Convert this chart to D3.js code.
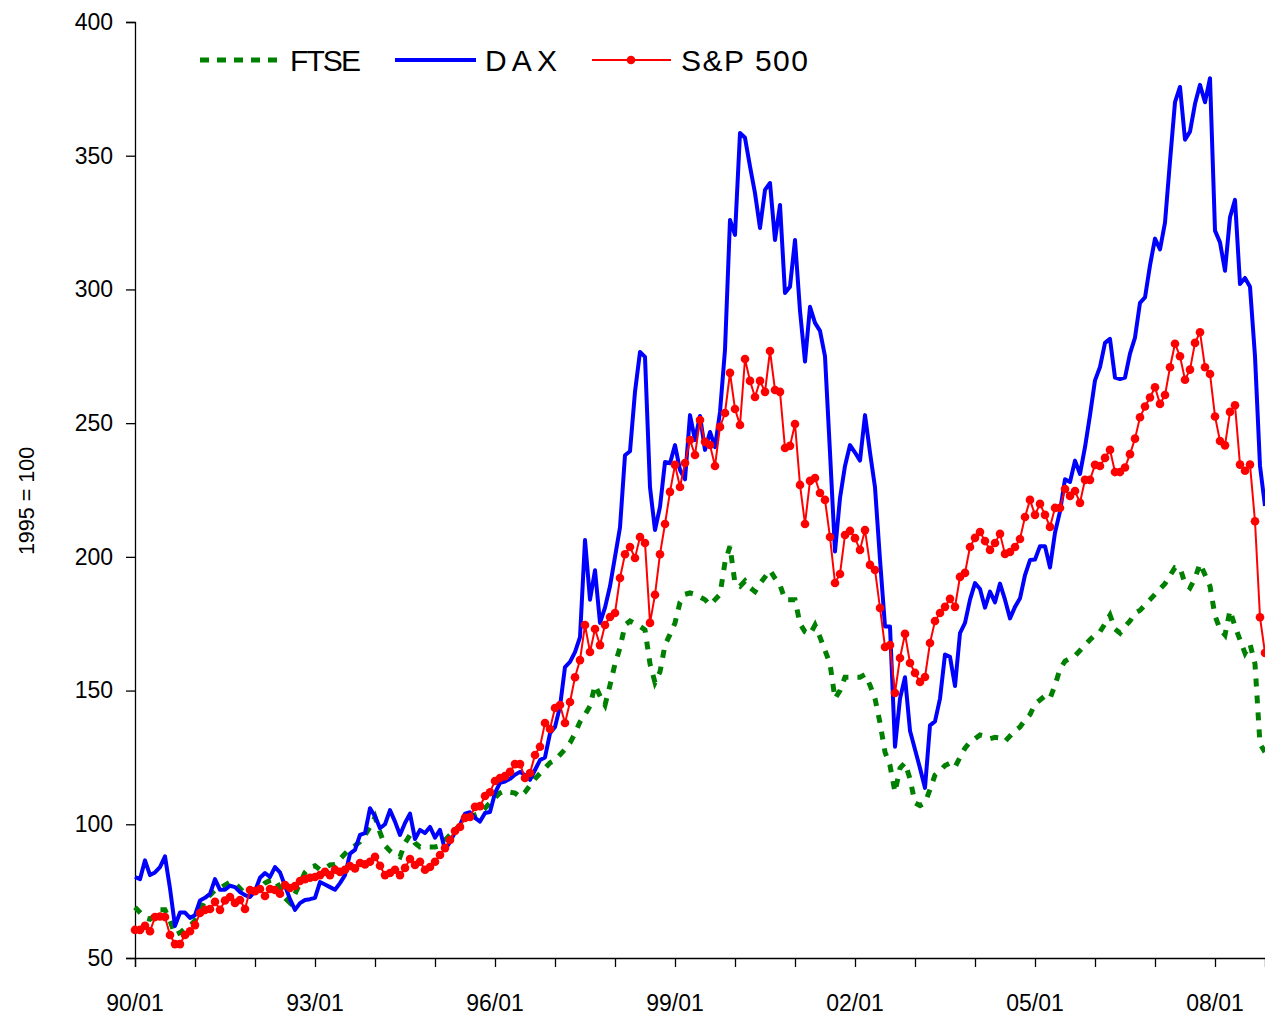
<!DOCTYPE html>
<html>
<head>
<meta charset="utf-8">
<script src="https://cdn.jsdelivr.net/npm/d3@7"></script>
<style>
  html, body { margin: 0; padding: 0; background: #fff; }
  svg { display: block; font-family: "Liberation Sans", Arial, sans-serif; }
</style>
</head>
<body>
<svg id="chart" width="1265" height="1019"></svg>
<script>
// Monthly observations, Jan 1990 .. Nov 2008 (1995 = 100)
const startYear = 1990;
const monthCount = 227;

const ftse = [
  69, 67, 65, 64.5, 66, 68, 68, 64, 58.6, 59.5, 61, 62,
  64, 67, 72, 73.5, 75.4, 76, 77.3, 78.4, 78, 76, 74, 74,
  75, 76, 78, 79, 79.5, 76, 72.4, 70.6, 74, 78, 82, 84,
  84.5, 83, 83.5, 84.8, 85, 87, 89, 91, 92, 93.5, 96, 99,
  102.7, 97, 92, 90, 88.5, 87.8, 93, 96, 93, 91.5, 91.5, 91.5,
  91.5, 92, 94, 96, 98, 99.5, 101, 102.5, 103.5, 104.2, 106, 108,
  110, 111.7, 112.5, 112, 111.7, 110.2, 112, 114.5, 117, 119, 121, 123,
  124, 126, 128, 130.4, 134, 138.3, 141, 144.2, 152, 148, 144.6, 152,
  160, 166, 174.5, 176, 175, 174, 172.7, 160, 153, 157, 167, 171,
  175.3, 183, 186, 186.5, 186, 185, 184, 182, 184, 186, 198, 204,
  190, 189, 191, 188.5, 187, 190, 192.5, 195, 192, 189.5, 184, 184,
  184, 175, 172, 171, 174.5, 170, 165, 160, 147, 150, 155, 155,
  155, 155, 156, 152, 147, 138, 127, 122, 112, 121, 123, 117,
  108, 107, 108, 113, 118.4, 120, 122, 122.9, 121.4, 125, 128.5, 130.8,
  132, 133.4, 133, 132, 132.5, 132.3, 131, 133, 135, 136.4, 139, 141,
  145, 146.5, 148, 147, 152, 158, 161, 162, 163, 165, 167, 169,
  170.8, 172, 175, 178.2, 173, 171.5, 174, 176, 179, 180, 182, 184,
  186, 188, 190, 193, 196, 196, 190, 188.4, 192, 197.5, 193.3, 189,
  178, 173, 170.8, 180, 174, 169, 164, 167.4, 160, 130, 127
];

const dax = [
  80.3, 79.5, 86.5, 81, 82, 84, 88, 76, 62, 67, 67, 65,
  66, 71.5, 72.5, 74, 79.5, 75.5, 75.5, 77, 76.5, 74.7, 73.5, 72.8,
  75, 80, 81.8, 80.3, 84, 82, 77, 72, 68, 70.5, 71.7, 72,
  72.5, 78.4, 77.5, 76.5, 75.5, 78, 81, 89, 90.4, 96, 96.7, 106,
  103, 98.5, 100, 105.3, 101, 96, 100.5, 104, 94.5, 97.9, 96.7, 99,
  95, 97.9, 90.4, 93.4, 97, 99.7, 104, 104.5, 102.4, 101, 104.2, 104.6,
  111.7, 115.5, 116, 117, 118.5, 119.6, 118.4, 116.6, 120.3, 124, 125, 134,
  136.4, 144, 158.8, 160.7, 164.4, 170, 206.3, 184, 195, 175.3, 181, 189,
  200, 211, 238, 239.5, 261.7, 276.6, 274.8, 226, 210, 218.7, 235.5, 235,
  241.8, 232.5, 229, 253, 243.7, 252.7, 240, 246.7, 241, 254.2, 277.4, 326,
  320.4, 358.5, 356.7, 346, 336, 323, 337.2, 339.8, 318.5, 331.6, 298.7, 301,
  318.5, 292, 273, 293.5, 287.5, 284.5, 275, 239, 202, 222, 234, 241.8,
  239, 236, 253, 239, 226, 199, 174, 174, 129, 147, 155, 135,
  128, 121, 113.6, 137, 138.5, 147, 163.5, 162.6, 151.7, 171.5, 175.3, 184,
  190.2, 188, 181, 187, 183, 190, 184, 177, 181.3, 184.5, 193.2, 198.8,
  199, 204, 204, 196, 209, 217, 229, 228, 236, 231, 241, 253,
  266, 271, 280, 281.5, 267, 266.5, 267, 276, 282, 295, 297, 309,
  319, 315, 325, 348, 370, 375.7, 356, 359, 369.4, 376.5, 370, 379,
  322, 317.6, 307, 327, 333.5, 302, 304.3, 301, 275, 234, 219
];

const sp500 = [
  60.5, 60.5, 62, 60, 65.3, 65.5, 65.3, 58.6, 55.2, 55.2, 58.6, 60,
  62.3, 66.8, 68, 68.3, 71, 68, 71.5, 72.8, 70.6, 71.7, 68.3, 75.4,
  75, 75.8, 73.2, 75.8, 75.4, 74, 77.3, 76.2, 76.9, 78.8, 79.5, 80,
  80.3, 81, 82.2, 81, 83, 82.2, 83, 84.4, 83.5, 85.5, 85, 86,
  87.8, 84.5, 81, 81.8, 83, 81, 83.7, 87, 84.8, 86, 83, 84,
  86, 88.5, 91.1, 94.1, 97.5, 99, 102.4, 102.7, 106.5, 106.8, 110.6, 112,
  116.2, 117.3, 118, 119.6, 122.5, 122.5, 117.3, 119.2, 125.9, 129, 137.9, 135.6,
  143.5, 144.6, 137.9, 145.7, 155, 161.4, 174.5, 164.4, 173, 167, 174.5, 177.5,
  179, 192.1, 201, 203.7, 199.6, 207.4, 205.2, 175.3, 185.8, 201, 212.3, 224.3,
  234.4, 226.1, 235.1, 243.7, 238.1, 251.2, 243, 241.8, 234, 248.6, 253.8, 268.8,
  255.3, 249.3, 274, 265.8, 259.8, 265.8, 261.7, 277, 262.4, 261.7, 240.7, 241.5,
  249.7, 226.9, 212.3, 228.4, 229.5, 223.9, 221.3, 207.4, 190.2, 193.6, 208.2, 209.7,
  207, 202.6, 210, 197, 195.1, 180.9, 166.3, 167, 149.1, 162.2, 171.2, 160.3,
  156.6, 153.2, 155.1, 167.8, 176, 179, 181.3, 184.3, 181.3, 192.5, 194, 203.7,
  207.1, 209.3, 205.9, 202.6, 205.2, 208.6, 201.1, 201.8, 203.7, 206.7, 214.9, 221.3,
  215.7, 219.8, 215.7, 211.2, 218.3, 218.3, 225.4, 222.8, 224.6, 220.2, 228.8, 228.8,
  234.4, 234, 237, 240, 231.7, 231.7, 233.4, 238.4, 244.2, 252.2, 256.2, 259.6,
  263.4, 257.2, 260.5, 270.9, 279.7, 275, 266.2, 270, 280, 284, 270.9, 268.4,
  252.5, 243.3, 241.7, 254.2, 256.7, 234.5, 232.2, 234.5, 213.3, 177.4, 164.1
];

const yTicks = [50, 100, 150, 200, 250, 300, 350, 400];
const xTickLabels = ["90/01", "93/01", "96/01", "99/01", "02/01", "05/01", "08/01"];
const seriesNames = ["FTSE", "DAX", "S&P 500"];
const yTitle = "1995 = 100";

// ---------------- drawing ----------------
(function draw() {
  const svg = d3.select("#chart");
  const pLeft = 135, pRight = 1265, pTop = 22, pBottom = 958;

  const months = d3.range(monthCount);
  const x = d3.scaleLinear().domain([0, monthCount - 1]).range([pLeft, pRight]);
  const y = d3.scaleLinear().domain([50, 400]).range([pBottom, pTop]);

  // y axis
  const yAxis = d3.axisLeft(y).tickValues(yTicks).tickSize(9).tickPadding(13).tickFormat(d3.format("d"));
  const gy = svg.append("g").attr("transform", `translate(${pLeft},0)`).call(yAxis);
  gy.select(".domain").attr("stroke", "#000").attr("stroke-width", 1.3);
  gy.selectAll(".tick line").attr("stroke", "#000").attr("stroke-width", 1.3);
  gy.selectAll(".tick text").attr("font-size", 23).attr("fill", "#000")
    .attr("font-family", "'Liberation Sans', Arial, sans-serif");

  // x axis: yearly ticks, labels every 3 years
  const yearTicks = months.filter(m => m % 12 === 0);
  const xAxis = d3.axisBottom(x).tickValues(yearTicks).tickSize(9).tickFormat(() => "");
  const gx = svg.append("g").attr("transform", `translate(0,${pBottom})`).call(xAxis);
  gx.select(".domain").attr("stroke", "#000").attr("stroke-width", 1.3);
  gx.selectAll(".tick line").attr("stroke", "#000").attr("stroke-width", 1.3);

  svg.append("g").selectAll("text")
    .data(xTickLabels)
    .join("text")
    .attr("x", (d, i) => x(i * 36))
    .attr("y", pBottom + 53)
    .attr("text-anchor", "middle")
    .attr("font-size", 23)
    .attr("fill", "#000")
    .text(d => d);

  // y title
  svg.append("text")
    .attr("transform", `translate(34,${(pTop + pBottom) / 2 + 11}) rotate(-90)`)
    .attr("text-anchor", "middle")
    .attr("font-size", 21.5)
    .attr("fill", "#000")
    .text(yTitle);

  const line = d3.line().x((d, i) => x(i)).y(d => y(d));

  // FTSE (dashed green)
  svg.append("path").datum(ftse)
    .attr("d", line)
    .attr("fill", "none")
    .attr("stroke", "#008000")
    .attr("stroke-width", 5)
    .attr("stroke-dasharray", "8,9");

  // DAX (thick blue)
  svg.append("path").datum(dax)
    .attr("d", line)
    .attr("fill", "none")
    .attr("stroke", "#0000FF")
    .attr("stroke-width", 4)
    .attr("stroke-linejoin", "round");

  // S&P 500 (red with dots)
  svg.append("path").datum(sp500)
    .attr("d", line)
    .attr("fill", "none")
    .attr("stroke", "#FF0000")
    .attr("stroke-width", 2);
  svg.append("g").selectAll("circle")
    .data(sp500)
    .join("circle")
    .attr("cx", (d, i) => x(i))
    .attr("cy", d => y(d))
    .attr("r", 4.3)
    .attr("fill", "#FF0000");

  // legend
  const legY = 60;
  const legend = svg.append("g");
  legend.append("line").attr("x1", 200).attr("x2", 282).attr("y1", legY).attr("y2", legY)
    .attr("stroke", "#008000").attr("stroke-width", 5).attr("stroke-dasharray", "9,8");
  legend.append("line").attr("x1", 395).attr("x2", 476).attr("y1", legY).attr("y2", legY)
    .attr("stroke", "#0000FF").attr("stroke-width", 4);
  legend.append("line").attr("x1", 592).attr("x2", 671).attr("y1", legY).attr("y2", legY)
    .attr("stroke", "#FF0000").attr("stroke-width", 2);
  legend.append("circle").attr("cx", 631).attr("cy", legY).attr("r", 4.3).attr("fill", "#FF0000");

  const legText = [
    { name: seriesNames[0], x: 290, w: 71 },
    { name: seriesNames[1], x: 485, w: 72 },
    { name: seriesNames[2], x: 681, w: 127 }
  ];
  legend.selectAll("text").data(legText).join("text")
    .attr("x", d => d.x)
    .attr("y", legY + 11)
    .attr("font-size", 30)
    .attr("fill", "#000")
    .attr("textLength", d => d.w)
    .attr("lengthAdjust", "spacing")
    .text(d => d.name);
})();
</script>
</body>
</html>
